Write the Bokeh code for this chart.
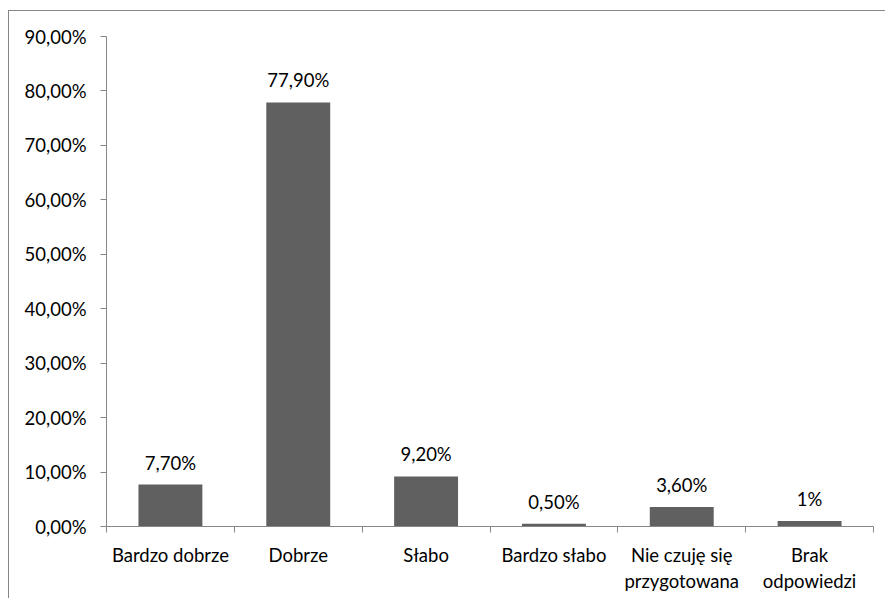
from bokeh.plotting import figure
from bokeh.models import FixedTicker, ColumnDataSource, Range1d
from bokeh.core.properties import value
from bokeh.embed import file_html
from bokeh.resources import INLINE

categories = ["Bardzo dobrze", "Dobrze", "Słabo", "Bardzo słabo", "Nie czuję się\nprzygotowana", "Brak\nodpowiedzi"]
values = [7.7, 77.9, 9.2, 0.5, 3.6, 1.0]
value_labels = ["7,70%", "77,90%", "9,20%", "0,50%", "3,60%", "1%"]
y_ticks = [0, 10, 20, 30, 40, 50, 60, 70, 80, 90]
y_tick_labels = ["0,00%", "10,00%", "20,00%", "30,00%", "40,00%", "50,00%", "60,00%", "70,00%", "80,00%", "90,00%"]

FONT = "Lato"
FS = "18.5px"
GRAY = "#868686"
BAR = "#606060"

n = len(categories)
centers = [i + 0.5 for i in range(n)]
bounds = [float(i) for i in range(n + 1)]

src = ColumnDataSource(dict(x=centers, top=values, lab=value_labels))

p = figure(width=877, height=588, output_backend="svg", toolbar_location=None,
           x_range=Range1d(0, n), y_range=Range1d(0, 90),
           min_border_left=97, min_border_right=13, min_border_top=25, min_border_bottom=73)
p.margin = (10, 0, 0, 8)
p.styles = {"border-left": f"1px solid {GRAY}", "border-top": f"1px solid {GRAY}"}
p.outline_line_color = None
p.grid.grid_line_color = None

p.vbar(x="x", top="top", bottom=0, width=0.5, source=src, fill_color=BAR, line_color=None)
p.text(x="x", y="top", text="lab", source=src, text_align="center", text_baseline="bottom",
       y_offset=-11, text_font=value(FONT), text_font_size=FS, text_color="#000000")

xa = p.xaxis[0]
xa.ticker = FixedTicker(ticks=centers, minor_ticks=bounds)
xa.major_label_overrides = {c: lab for c, lab in zip(centers, categories)}
xa.major_tick_in = 0
xa.major_tick_out = 0
xa.minor_tick_in = 0
xa.minor_tick_out = 6
xa.minor_tick_line_color = GRAY
xa.axis_line_color = GRAY
xa.major_label_text_font = FONT
xa.major_label_text_font_size = FS
xa.major_label_text_color = "#000000"
xa.major_label_standoff = 11

ya = p.yaxis[0]
ya.ticker = FixedTicker(ticks=y_ticks, minor_ticks=[])
ya.major_label_overrides = {t: lab for t, lab in zip(y_ticks, y_tick_labels)}
ya.major_tick_in = 0
ya.major_tick_out = 6
ya.major_tick_line_color = GRAY
ya.axis_line_color = GRAY
ya.major_label_text_font = FONT
ya.major_label_text_font_size = FS
ya.major_label_text_color = "#000000"
ya.major_label_standoff = 14

open("out.html", "w").write(file_html(p, INLINE))
